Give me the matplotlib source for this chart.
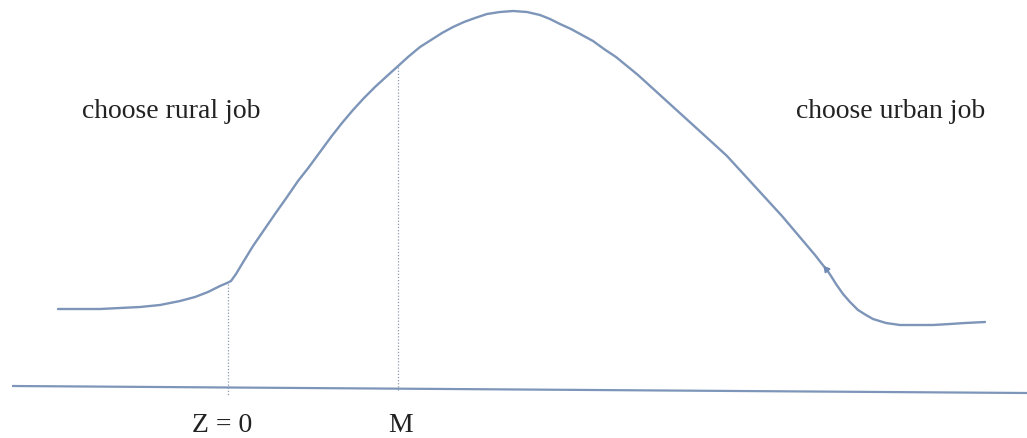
"""Redraw of the rural/urban job choice curve sketch."""

import matplotlib.pyplot as plt

# curve (pixel coordinates, y grows downward)
curve_x = [58, 80, 100, 120, 140, 160, 180, 195, 208, 220, 227, 231,
           236, 242, 253, 264, 275, 287, 298, 309, 320, 331, 342, 353,
           364, 375, 387, 397, 408, 420, 431, 442, 453, 464, 475, 487,
           500, 513, 527, 540, 550, 560, 571, 582, 593, 604, 616, 627,
           638, 649, 660, 671, 682, 693, 704, 715, 727, 738, 749, 760,
           771, 782, 793, 804, 815, 822, 827, 831, 836, 843, 850, 858,
           866, 873, 886, 900, 916, 933, 950, 965, 985]
curve_y = [310, 310, 310, 309, 308, 306, 302, 298, 293, 287, 284, 282,
           275, 265, 247, 231, 215, 198, 182, 168, 153, 138, 124, 111,
           99, 88, 77, 68, 58, 48, 41, 34, 28, 23, 19, 15,
           13, 12, 13, 16, 20, 25, 30, 36, 42, 50, 58, 67,
           76, 86, 96, 106, 116, 126, 136, 146, 157, 169, 181, 193,
           205, 217, 230, 243, 256, 265, 271, 277, 285, 295, 303, 311,
           316, 320, 324, 326, 326, 326, 325, 324, 323]

baseline_x = [12, 1027]
baseline_y = [387, 394]

# dotted guide lines: (x, top, bottom)
guides = [(228, 285, 396), (398, 68, 392)]

# little arrow tick drawn on the falling side
arrow_x, arrow_y = 826, 270

labels = ["choose rural job", "choose urban job", "Z = 0", "M"]
label_pos = [(171, 118), (891, 118), (222, 432), (401, 432)]

LINE = "#7d95b8"
TEXT = "#222222"

fig = plt.figure(figsize=(10.27, 4.39), dpi=100)
ax = fig.add_axes([0, 0, 1, 1])
ax.set_xlim(0, 1027)
ax.set_ylim(439, 0)
ax.axis("off")

ax.plot(baseline_x, baseline_y, color=LINE, lw=1.6, solid_capstyle="butt")
ax.plot(curve_x, curve_y, color=LINE, lw=1.7, solid_joinstyle="round",
        solid_capstyle="round")
ax.plot([arrow_x], [arrow_y], marker=(3, 0, 40), ms=5, color="#6f8ab3", lw=0)
for gx, top, bottom in guides:
    ax.plot([gx, gx], [top, bottom], color="#8a9ab0", lw=0.9, ls=(0, (1, 1.5)))

for text, (tx, ty) in zip(labels, label_pos):
    ax.text(tx, ty, text, ha="center", va="baseline", fontsize=20,
            family="Liberation Serif", color=TEXT)

fig.savefig("out.png", dpi=100)
